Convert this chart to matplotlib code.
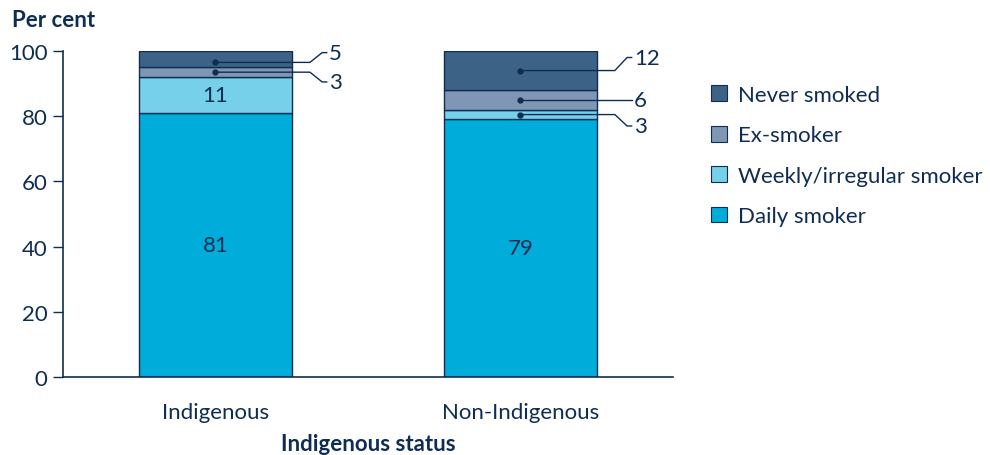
import numpy as np
import matplotlib
matplotlib.use("Agg")
import matplotlib.pyplot as plt
from matplotlib.patches import Patch

# data
groups = ["Indigenous", "Non-Indigenous"]
categories = ["Daily smoker", "Weekly/irregular smoker", "Ex-smoker", "Never smoked"]
daily = [81, 79]
weekly = [11, 3]
ex_smoker = [3, 6]
never = [5, 12]
series = [daily, weekly, ex_smoker, never]

colours = ["#00acd9", "#76d0ea", "#7f97b5", "#3c6385"]
navy = "#0f2d52"
fs = 16

plt.rcParams["font.family"] = ["Lato", "DejaVu Sans"]
plt.rcParams["font.size"] = fs

fig = plt.figure(figsize=(9.9, 4.56), dpi=100)
ax = fig.add_axes([0.0636, 0.171, 0.616, 0.715])

x = np.arange(len(groups))
width = 0.5
bottom = np.zeros(len(groups))
for vals, col in zip(series, colours):
    ax.bar(x, vals, width, bottom=bottom, color=col, edgecolor=navy, linewidth=1, zorder=2)
    bottom += np.array(vals)

# labels inside bars (large segments)
for i in range(len(groups)):
    base = 0
    for vals in series:
        v = vals[i]
        if v >= 10 and not (vals is never):
            ax.text(x[i], base + v / 2, str(v), ha="center", va="center", color=navy, fontsize=fs)
        base += v

# leader lines for small segments: (group, series index, label y offset)
leaders = [(0, 3, 3.0), (0, 2, -3.0), (1, 3, 4.0), (1, 2, 0.0), (1, 1, -3.5)]
for gi, si, dy in leaders:
    base = sum(series[k][gi] for k in range(si))
    v = series[si][gi]
    ymid = base + v / 2
    if si == 3 and gi == 0:
        ymid -= 1.0
    x0 = x[gi]
    x1 = x[gi] + width / 2 + 0.06
    x2 = x1 + 0.04
    x3 = x2 + 0.015
    ax.plot([x0], [ymid], "o", color=navy, markersize=3.5, zorder=4, clip_on=False)
    if dy == 0:
        ax.plot([x0, x3], [ymid, ymid], color=navy, lw=1, zorder=3, clip_on=False)
    else:
        ax.plot([x0, x1, x2, x3], [ymid, ymid, ymid + dy, ymid + dy], color=navy, lw=1, zorder=3, clip_on=False)
    ax.text(x3 + 0.008, ymid + dy, str(v), ha="left", va="center", color=navy, fontsize=fs)

ax.set_xlim(-0.5, 1.5)
ax.set_ylim(0, 100)
ax.set_yticks(np.arange(0, 101, 20))
ax.set_xticks(x)
ax.set_xticklabels(groups)
ax.tick_params(axis="x", length=0, pad=18, colors=navy)
ax.tick_params(axis="y", length=7, width=1, colors=navy, pad=4)
for s in ["top", "right"]:
    ax.spines[s].set_visible(False)
for s in ["left", "bottom"]:
    ax.spines[s].set_color(navy)
    ax.spines[s].set_linewidth(1.2)

ax.set_xlabel("Indigenous status", fontweight="bold", color=navy, fontsize=fs, labelpad=8)
fig.text(0.012, 0.955, "Per cent", fontweight="bold", color=navy, fontsize=fs, ha="left", va="center")

handles = [Patch(facecolor=c, edgecolor=navy, linewidth=0.8) for c in colours][::-1]
fig.legend(handles, categories[::-1], loc="upper left", bbox_to_anchor=(0.709, 0.831),
           frameon=False, handlelength=0.72, handleheight=0.72, handletextpad=0.5,
           labelspacing=0.92, fontsize=fs, labelcolor=navy, borderaxespad=0)

fig.savefig("out.png", dpi=100)
